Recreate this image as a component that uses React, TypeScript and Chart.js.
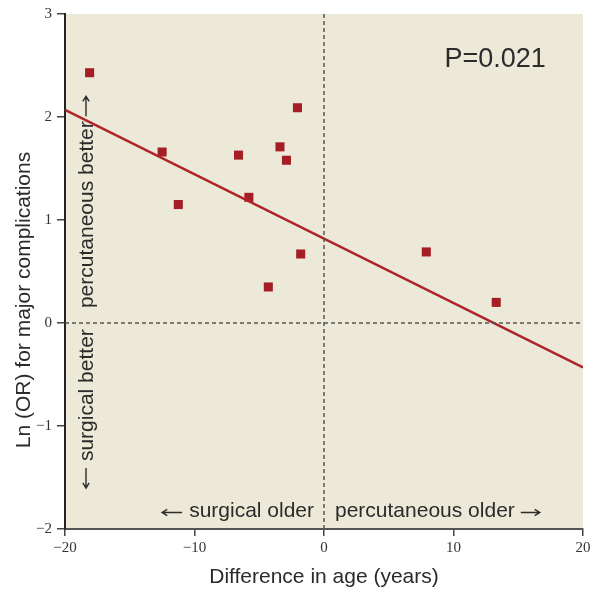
import React, { useEffect, useRef } from "react";
import { Chart, registerables } from "chart.js";

Chart.register(...registerables);

const ageDiff = [-18.1, -12.5, -11.25, -6.6, -5.8, -3.4, -2.9, -2.05, -1.8, -4.3, 7.9, 13.3];
const lnOR = [2.43, 1.66, 1.15, 1.63, 1.22, 1.71, 1.58, 2.09, 0.67, 0.35, 0.69, 0.2];
const regX = [-20, 20];
const regY = [2.07, -0.43];
const xTicks = [-20, -10, 0, 10, 20];
const yTicks = [-2, -1, 0, 1, 2, 3];
const pText = "P=0.021";
const xTitle = "Difference in age (years)";
const yTitle = "Ln (OR) for major complications";
const leftOlder = "surgical older";
const rightOlder = "percutaneous older";
const upBetter = "percutaneous better";
const downBetter = "surgical better";

const RED = "#A61E25";
const TEXT = "#2b2b2b";
const SANS = "'Liberation Sans', Arial, sans-serif";
const SERIF = "'Liberation Serif', 'Times New Roman', serif";

const fmt = (v: number) => (v < 0 ? "\u2212" + Math.abs(v) : String(v));

// arrow from (x1,y1) to (x2,y2), head at (x2,y2)
function arrow(ctx: any, x1: number, y1: number, x2: number, y2: number) {
  const ang = Math.atan2(y2 - y1, x2 - x1);
  const h = 6;
  ctx.beginPath();
  ctx.moveTo(x1, y1);
  ctx.lineTo(x2, y2);
  ctx.moveTo(x2 - h * Math.cos(ang - 0.55), y2 - h * Math.sin(ang - 0.55));
  ctx.lineTo(x2, y2);
  ctx.lineTo(x2 - h * Math.cos(ang + 0.55), y2 - h * Math.sin(ang + 0.55));
  ctx.stroke();
}

const annotPlugin = {
  id: "annot",
  beforeDraw(chart: any) {
    const { ctx, chartArea: a } = chart;
    ctx.save();
    ctx.fillStyle = "#ECE9D8";
    ctx.fillRect(a.left, a.top, a.right - a.left, a.bottom - a.top);
    ctx.restore();
  },
  afterDraw(chart: any) {
    const { ctx } = chart;
    const xs = chart.scales.x;
    const ys = chart.scales.y;
    ctx.save();
    ctx.fillStyle = TEXT;
    ctx.strokeStyle = TEXT;
    ctx.lineWidth = 1.4;
    // P value
    ctx.font = "27px " + SANS;
    ctx.textAlign = "left";
    ctx.textBaseline = "alphabetic";
    ctx.fillText(pText, xs.getPixelForValue(9.3), ys.getPixelForValue(2.49));
    // older labels
    ctx.font = "21px " + SANS;
    ctx.textBaseline = "middle";
    const yOld = ys.getPixelForValue(-1.83);
    ctx.textAlign = "right";
    const lx = xs.getPixelForValue(-0.77);
    ctx.fillText(leftOlder, lx, yOld);
    const lw = ctx.measureText(leftOlder).width;
    arrow(ctx, lx - lw - 7, yOld + 1, lx - lw - 27, yOld + 1);
    ctx.textAlign = "left";
    const rx = xs.getPixelForValue(0.85);
    ctx.fillText(rightOlder, rx, yOld);
    const rw = ctx.measureText(rightOlder).width;
    arrow(ctx, rx + rw + 6, yOld + 1, rx + rw + 25, yOld + 1);
    // rotated better labels
    const xb = xs.getPixelForValue(-18.3);
    const uy = ys.getPixelForValue(0.145);
    ctx.save();
    ctx.translate(xb, uy);
    ctx.rotate(-Math.PI / 2);
    ctx.textAlign = "left";
    ctx.fillText(upBetter, 0, 0);
    const uw = ctx.measureText(upBetter).width;
    arrow(ctx, uw + 5, -1, uw + 25, -1);
    ctx.restore();
    const dy = ys.getPixelForValue(-0.06);
    ctx.save();
    ctx.translate(xb, dy);
    ctx.rotate(-Math.PI / 2);
    ctx.textAlign = "right";
    ctx.fillText(downBetter, 0, 0);
    const dw = ctx.measureText(downBetter).width;
    arrow(ctx, -dw - 7, -1, -dw - 27, -1);
    ctx.restore();
    // axis titles
    ctx.font = "21px " + SANS;
    ctx.textAlign = "center";
    ctx.textBaseline = "middle";
    ctx.fillText(xTitle, 324, 577);
    ctx.save();
    ctx.translate(24, 300);
    ctx.rotate(-Math.PI / 2);
    ctx.fillText(yTitle, 0, 0);
    ctx.restore();
    ctx.restore();
  },
};

export default function App() {
  const ref = useRef<HTMLCanvasElement>(null);
  useEffect(() => {
    document.body.style.margin = "0";
    const chart = new Chart(ref.current!, {
      type: "scatter",
      data: {
        datasets: [
          {
            type: "line",
            data: [
              { x: 0, y: -2 },
              { x: 0, y: 3 },
            ],
            borderColor: "#555",
            borderWidth: 1.5,
            borderDash: [4, 3],
            pointRadius: 0,
          },
          {
            type: "line",
            data: [
              { x: -20, y: 0 },
              { x: 20, y: 0 },
            ],
            borderColor: "#555",
            borderWidth: 1.5,
            borderDash: [4, 3],
            pointRadius: 0,
          },
          {
            type: "line",
            data: regX.map((x, i) => ({ x, y: regY[i] })),
            borderColor: "#AE2429",
            borderWidth: 2.5,
            pointRadius: 0,
          },
          {
            data: ageDiff.map((x, i) => ({ x, y: lnOR[i] })),
            pointStyle: "rect",
            pointRadius: 6.4,
            backgroundColor: RED,
            borderColor: RED,
            borderWidth: 0,
          },
        ],
      },
      options: {
        animation: false,
        responsive: false,
        maintainAspectRatio: false,
        layout: { padding: { top: 12, right: 15, left: 0, bottom: 0 } },
        plugins: { legend: { display: false }, tooltip: { enabled: false } },
        scales: {
          x: {
            type: "linear",
            min: -20,
            max: 20,
            afterBuildTicks: (s: any) => {
              s.ticks = xTicks.map((v) => ({ value: v }));
            },
            afterFit: (s: any) => {
              s.height = 61;
            },
            ticks: {
              callback: (v: any) => fmt(Number(v)),
              font: { family: SERIF, size: 15 },
              color: "#333",
              padding: 3,
            },
            grid: { drawOnChartArea: false, drawTicks: true, tickLength: 7, color: "#444", lineWidth: 1.5 },
            border: { display: true, color: "#555", width: 2 },
          },
          y: {
            type: "linear",
            min: -2,
            max: 3,
            afterBuildTicks: (s: any) => {
              s.ticks = yTicks.map((v) => ({ value: v }));
            },
            afterFit: (s: any) => {
              s.width = 65;
            },
            ticks: {
              callback: (v: any) => fmt(Number(v)),
              font: { family: SERIF, size: 15 },
              color: "#333",
              padding: 5,
            },
            grid: { drawOnChartArea: false, drawTicks: true, tickLength: 8, color: "#444", lineWidth: 1.5 },
            border: { display: true, color: "#222", width: 2 },
          },
        },
      },
      plugins: [annotPlugin],
    } as any);
    return () => chart.destroy();
  }, []);
  return <canvas ref={ref} width={598} height={590} style={{ display: "block" }} />;
}
